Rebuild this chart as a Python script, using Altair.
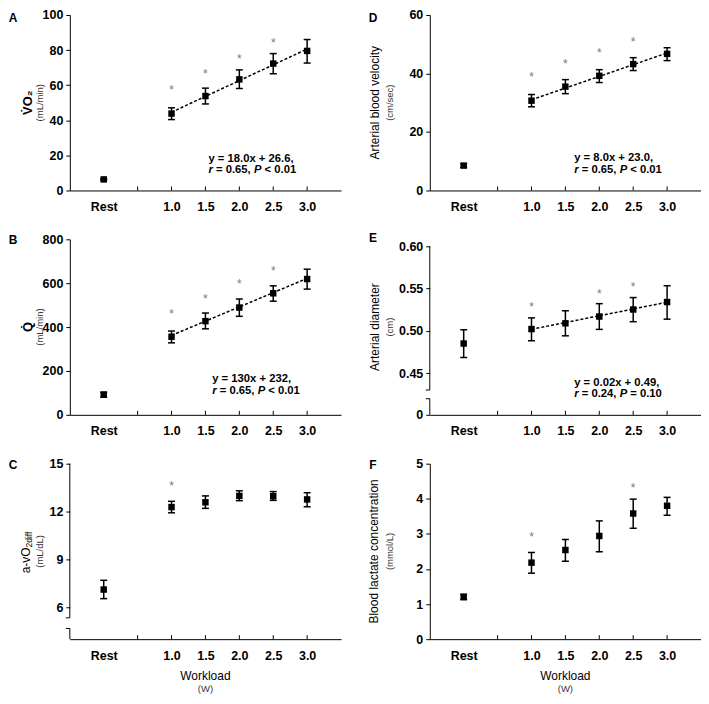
import altair as alt
import pandas as pd

FONT = "Liberation Sans"
W, H = 272, 176

categories = ["Rest", "1.0", "1.5", "2.0", "2.5", "3.0"]
x_pos = [1, 3, 4, 5, 6, 7]
tick_pos = [2, 3, 4, 5, 6, 7]
fit_x = [3, 7]

# A: VO2 (mL/min)
vo2_mean = [6.3, 43.8, 53.8, 63.3, 72.3, 79.5]
vo2_lo = [5.9, 40.4, 49.3, 58.1, 66.5, 72.6]
vo2_hi = [6.7, 47.1, 58.3, 68.7, 78.0, 86.0]
vo2_star_x = [3, 4, 5, 6]
vo2_star = [58.7, 68.0, 76.5, 85.7]
vo2_fit = [44.6, 80.6]

# B: Q (mL/min)
q_mean = [92, 356, 427, 489, 554, 619]
q_lo = [81, 328, 392, 449, 518, 573]
q_hi = [103, 382, 464, 528, 588, 664]
q_star_x = [3, 4, 5, 6]
q_star = [471, 543, 610, 671]
q_fit = [362, 622]

# C: a-vO2diff (mL/dL)
avo2_mean = [7.11, 12.28, 12.58, 12.98, 12.96, 12.76]
avo2_lo = [6.54, 11.92, 12.20, 12.68, 12.70, 12.30]
avo2_hi = [7.69, 12.64, 12.98, 13.30, 13.25, 13.18]
avo2_star_x = [3]
avo2_star = [13.79]

# D: arterial blood velocity (cm/sec)
vel_mean = [8.5, 30.7, 35.5, 39.2, 43.2, 46.7]
vel_lo = [7.9, 28.6, 33.1, 36.9, 41.0, 44.4]
vel_hi = [9.1, 32.8, 37.9, 41.3, 45.4, 48.8]
vel_star_x = [3, 4, 5, 6]
vel_star = [39.9, 44.1, 47.9, 51.8]
vel_fit = [31.0, 47.0]

# E: arterial diameter (cm)
diam_mean = [0.4852, 0.5023, 0.5091, 0.5171, 0.5254, 0.5342]
diam_lo = [0.4687, 0.4885, 0.4943, 0.5019, 0.5110, 0.5140]
diam_hi = [0.5015, 0.5155, 0.5239, 0.5323, 0.5395, 0.5535]
diam_star_x = [3, 5, 6]
diam_star = [0.5319, 0.5478, 0.5554]
diam_fit = [0.502, 0.534]

# F: blood lactate (mmol/L)
lac_mean = [1.20, 2.18, 2.54, 2.94, 3.58, 3.80]
lac_lo = [1.13, 1.88, 2.22, 2.49, 3.16, 3.53]
lac_hi = [1.28, 2.47, 2.84, 3.37, 3.99, 4.04]
lac_star_x = [3, 6]
lac_star = [3.01, 4.40]

label_expr = ""
for p, c in zip(x_pos, categories):
    label_expr += f"datum.value == {p} ? '{c}' : "
label_expr += "''"

EQ_SIZE = 11.3


def text_layer(text, x, y, size=11, weight="normal", color="black", angle=0,
               align="center", baseline="middle", italic=False):
    df = pd.DataFrame({"t": [text]})
    return alt.Chart(df).mark_text(
        font=FONT, fontSize=size, fontWeight=weight, color=color, angle=angle,
        align=align, baseline=baseline, fontStyle="italic" if italic else "normal",
    ).encode(text="t:N", x=alt.value(x), y=alt.value(y))


def panel(letter, letter_y, mean, lo, hi, star_x, star_y, fit_y, ydomain, yticks,
          title_parts, sub, sub_x, eq=None, brk=None, label_expr_y=None, bottom=False):
    df = pd.DataFrame({"pos": x_pos, "cat": categories, "mean": mean, "lo": lo, "hi": hi})
    xs = alt.Scale(domain=[0, 8], nice=False, zero=False)
    ys = alt.Scale(domain=ydomain, nice=False, zero=False)
    xaxis = alt.Axis(values=x_pos, labelExpr=label_expr, ticks=False, grid=False, title=None,
                     labelFont=FONT, labelFontSize=12.5, labelFontWeight="bold", labelColor="black",
                     labelPadding=10, domainColor="black", domainWidth=1)
    yargs = dict(values=yticks, grid=False, title=None, tickSize=4, tickColor="black",
                 labelFont=FONT, labelFontSize=12.5, labelFontWeight="bold", labelColor="black",
                 labelPadding=3, domain=brk is None, domainColor="black", domainWidth=1)
    if label_expr_y:
        yargs["labelExpr"] = label_expr_y
    yaxis = alt.Axis(**yargs)
    X = alt.X("pos:Q", scale=xs, axis=xaxis)
    base = alt.Chart(df)
    layers = []
    layers.append(base.mark_rule(color="black", strokeWidth=1.5).encode(
        x=X, y=alt.Y("lo:Q", scale=ys, axis=yaxis), y2="hi:Q"))
    layers.append(base.mark_tick(orient="horizontal", size=7, thickness=1.5, color="black", opacity=1).encode(
        x=X, y=alt.Y("lo:Q", scale=ys, axis=yaxis)))
    layers.append(base.mark_tick(orient="horizontal", size=7, thickness=1.5, color="black", opacity=1).encode(
        x=X, y=alt.Y("hi:Q", scale=ys, axis=yaxis)))
    # x-axis tick marks pointing up
    tdf = pd.DataFrame({"pos": tick_pos})
    layers.append(alt.Chart(tdf).mark_rule(color="black", strokeWidth=1).encode(
        x=X, y=alt.value(H), y2=alt.value(H - 4)))
    if fit_y is not None:
        fdf = pd.DataFrame({"pos": fit_x, "val": fit_y})
        layers.append(alt.Chart(fdf).mark_line(color="black", strokeWidth=1.5, strokeDash=[3, 2]).encode(
            x=X, y=alt.Y("val:Q", scale=ys, axis=yaxis)))
    layers.append(base.mark_square(size=42, color="black", opacity=1).encode(
        x=X, y=alt.Y("mean:Q", scale=ys, axis=yaxis)))
    sdf = pd.DataFrame({"pos": star_x, "val": star_y, "s": ["*"] * len(star_x)})
    layers.append(alt.Chart(sdf).mark_text(font=FONT, fontSize=12, color="#7a7a7a",
                                          baseline="alphabetic", dy=7).encode(
        x=X, y=alt.Y("val:Q", scale=ys, axis=yaxis), text="s:N"))
    if eq is not None:
        ex, ey, l1, r_txt, p_op = eq
        edf = pd.DataFrame({"pos": [ex], "val": [ey]})
        k = EQ_SIZE / 1000.0
        def seg(t, dx, dy, italic=False):
            return alt.Chart(edf).mark_text(font=FONT, fontSize=EQ_SIZE, fontWeight="bold", color="black",
                                           align="left", baseline="middle", dx=dx, dy=dy,
                                           fontStyle="italic" if italic else "normal").encode(
                x=X, y=alt.Y("val:Q", scale=ys, axis=yaxis), text=alt.value(t))
        x_eq = (389 + 278) * k
        x_p = x_eq + 3364 * k
        x_op = x_p + (667 + 278) * k
        layers.append(seg(l1, 0, 0))
        layers.append(seg("r", 0, 11.5, True))
        layers.append(seg("= " + r_txt + ",", x_eq, 11.5))
        layers.append(seg("P", x_p, 11.5, True))
        layers.append(seg(p_op, x_op, 11.5))
    if brk is not None:
        segs, ends = brk
        bdf = pd.DataFrame({"a": [s[0] for s in segs], "b": [s[1] for s in segs]})
        layers.append(alt.Chart(bdf).mark_rule(color="black", strokeWidth=1).encode(
            x=alt.value(0), y=alt.Y("a:Q", scale=ys, axis=yaxis), y2="b:Q"))
        edf2 = pd.DataFrame({"val": ends})
        layers.append(alt.Chart(edf2).mark_rule(color="black", strokeWidth=1).encode(
            x=alt.value(0), x2=alt.value(-4), y=alt.Y("val:Q", scale=ys, axis=yaxis)))
    # titles
    for (t, x, size, weight, align, dyc) in title_parts:
        layers.append(text_layer(t, x, H / 2 + dyc, size=size, weight=weight, angle=270, align=align))
    layers.append(text_layer(sub, sub_x, H / 2, size=9.5, color="#333333", angle=270))
    layers.append(text_layer(letter, -57, letter_y, size=12, weight="bold"))
    if bottom:
        layers.append(text_layer("Workload", W / 2, H + 37, size=12))
        layers.append(text_layer("(W)", W / 2, H + 50, size=9.5, color="#333333"))
    return alt.layer(*layers).properties(width=W, height=H)


pA = panel("A", 3, vo2_mean, vo2_lo, vo2_hi, vo2_star_x, vo2_star, vo2_fit, [0, 100],
           [0, 20, 40, 60, 80, 100], [("V\u0307O\u2082", -42, 13, "bold", "center", 0)],
           "(mL/min)", -30, eq=(4.09, 18, "y = 18.0x + 26.6,", "0.65", "< 0.01"))
pB = panel("B", 1, q_mean, q_lo, q_hi, q_star_x, q_star, q_fit, [0, 800],
           [0, 200, 400, 600, 800], [("Q\u0307", -42, 13, "bold", "center", 0)],
           "(mL/min)", -30, eq=(4.2, 163, "y = 130x + 232,", "0.65", "< 0.01"))
pC = panel("C", 1, avo2_mean, avo2_lo, avo2_hi, avo2_star_x, avo2_star, None, [4.0, 15.0],
           [6, 9, 12, 15], [("a-vO", -44, 12, "normal", "right", -4), ("2diff", -41, 8.5, "normal", "left", -4)],
           "(mL/dL)", -30, brk=([(15.0, 5.336), (4.67, 4.0)], [5.336, 4.67]), bottom=True)
pD = panel("D", 3, vel_mean, vel_lo, vel_hi, vel_star_x, vel_star, vel_fit, [0, 60],
           [0, 20, 40, 60], [("Arterial blood velocity", -55, 12, "normal", "center", 0)],
           "(cm/sec)", -40, eq=(4.26, 11, "y = 8.0x + 23.0,", "0.65", "< 0.01"))
pE = panel("E", -1, diam_mean, diam_lo, diam_hi, diam_star_x, diam_star, diam_fit, [0.401, 0.6083],
           [0.401, 0.45, 0.50, 0.55, 0.60], [("Arterial diameter", -55, 12, "normal", "center", 0)],
           "(cm)", -40, eq=(4.26, 0.4386, "y = 0.02x + 0.49,", "0.24", "= 0.10"),
           brk=([(0.60, 0.4303), (0.4200, 0.401)], [0.4303, 0.4200]),
           label_expr_y="datum.value < 0.42 ? '0' : format(datum.value, '.2f')")
pF = panel("F", 1, lac_mean, lac_lo, lac_hi, lac_star_x, lac_star, None, [0, 5],
           [0, 1, 2, 3, 4, 5], [("Blood lactate concentration", -56, 12, "normal", "center", 0)],
           "(mmol/L)", -40, bottom=True)

chart = alt.ConcatChart(concat=[pA, pD, pB, pE, pC, pF], columns=2,
                        spacing={"row": 49, "column": 89}, bounds="flush", padding=0,
                        background="white").configure_view(stroke=None)

chart.save("out.html", embed_options={"renderer": "svg", "actions": False})
